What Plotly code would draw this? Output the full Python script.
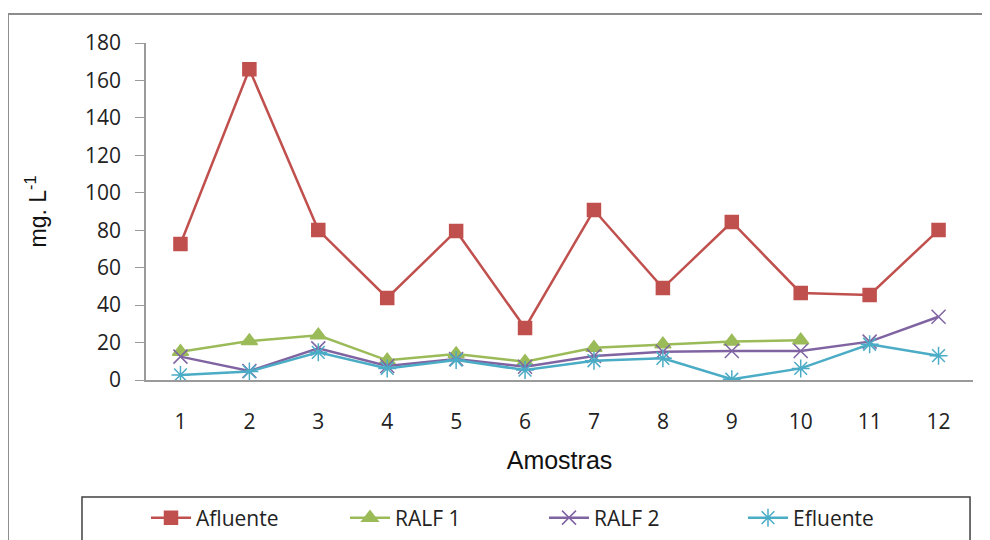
import plotly.graph_objects as go

amostras = [1, 2, 3, 4, 5, 6, 7, 8, 9, 10, 11, 12]
afluente = [72.6, 166, 80.1, 43.8, 79.6, 27.8, 90.8, 49.1, 84.4, 46.5, 45.4, 80.1]
ralf1 = [15.1, 20.8, 23.9, 10.5, 13.9, 9.8, 17.2, 19.1, 20.6, 21.2, None, None]
ralf2 = [12.5, 4.8, 16.9, 7.5, 11.2, 7.1, 12.8, 15.1, 15.5, 15.5, 20.5, 33.8]
efluente = [2.7, 4.5, 14.8, 6.2, 10.7, 5.3, 10.3, 11.6, 0.4, 6.2, 19.1, 13.0]

FONT = "Open Sans"
TFONT = "Liberation Sans"
fig = go.Figure()

series = [
    ("Afluente", afluente, "#C0504D", "square", 13),
    ("RALF 1", ralf1, "#9BBB59", "triangle-up", 14),
    ("RALF 2", ralf2, "#8064A2", "x-thin-open", 14),
    ("Efluente", efluente, "#4BACC6", "asterisk-open", 15),
]
for name, vals, col, sym, sz in series:
    fig.add_trace(go.Scatter(
        x=amostras, y=vals, name=name, mode="lines+markers",
        line=dict(color=col, width=2.5),
        marker=dict(symbol=sym, size=sz, color=col, line=dict(color=col, width=1.5)),
        connectgaps=False,
    ))

fig.update_layout(
    width=990, height=540,
    margin=dict(l=138, r=25, t=35, b=168),
    paper_bgcolor="white", plot_bgcolor="white",
    font=dict(family=FONT, size=20, color="#222"),
    showlegend=True,
    legend=dict(orientation="h", x=0.0, xanchor="left",
                yref="container", y=0.0556, yanchor="middle",
                font=dict(family=FONT, size=21, color="#222"),
                entrywidth=144, entrywidthmode="pixels", itemwidth=40,
                bgcolor="rgba(0,0,0,0)"),
    xaxis=dict(range=[0.5, 12.5], tickmode="array", tickvals=amostras,
               ticktext=[str(a) for a in amostras], automargin=False,
               showgrid=False, showline=True, linecolor="#9A9A9A", linewidth=1.5,
               ticks="", ticklabelstandoff=22, zeroline=False,
               title=dict(text="Amostras", font=dict(family=TFONT, size=25, color="#111"),
                          standoff=18),
               tickfont=dict(family=FONT, size=21, color="#222")),
    yaxis=dict(range=[0, 180], dtick=20, showgrid=False, showline=True, automargin=False,
               linecolor="#9A9A9A", linewidth=1.5, ticks="outside", ticklen=9,
               tickcolor="#9A9A9A", zeroline=False, ticklabelstandoff=10,
               title=dict(text="mg. L<sup>-1</sup>", font=dict(family=TFONT, size=23, color="#111"),
                          standoff=32),
               tickfont=dict(family=FONT, size=21, color="#222")),
    shapes=[
        dict(type="rect", xref="paper", yref="paper", x0=-0.1669, x1=1.03, y0=-0.5, y1=1.086,
             line=dict(color="#8C8C8C", width=2), fillcolor="rgba(0,0,0,0)", layer="below"),
        dict(type="rect", xref="paper", yref="paper", x0=-0.0774, x1=0.9964, y0=-0.5, y1=-0.347,
             line=dict(color="#404040", width=1.5), fillcolor="rgba(0,0,0,0)", layer="below"),
    ],
)

fig.write_html("out.html")
